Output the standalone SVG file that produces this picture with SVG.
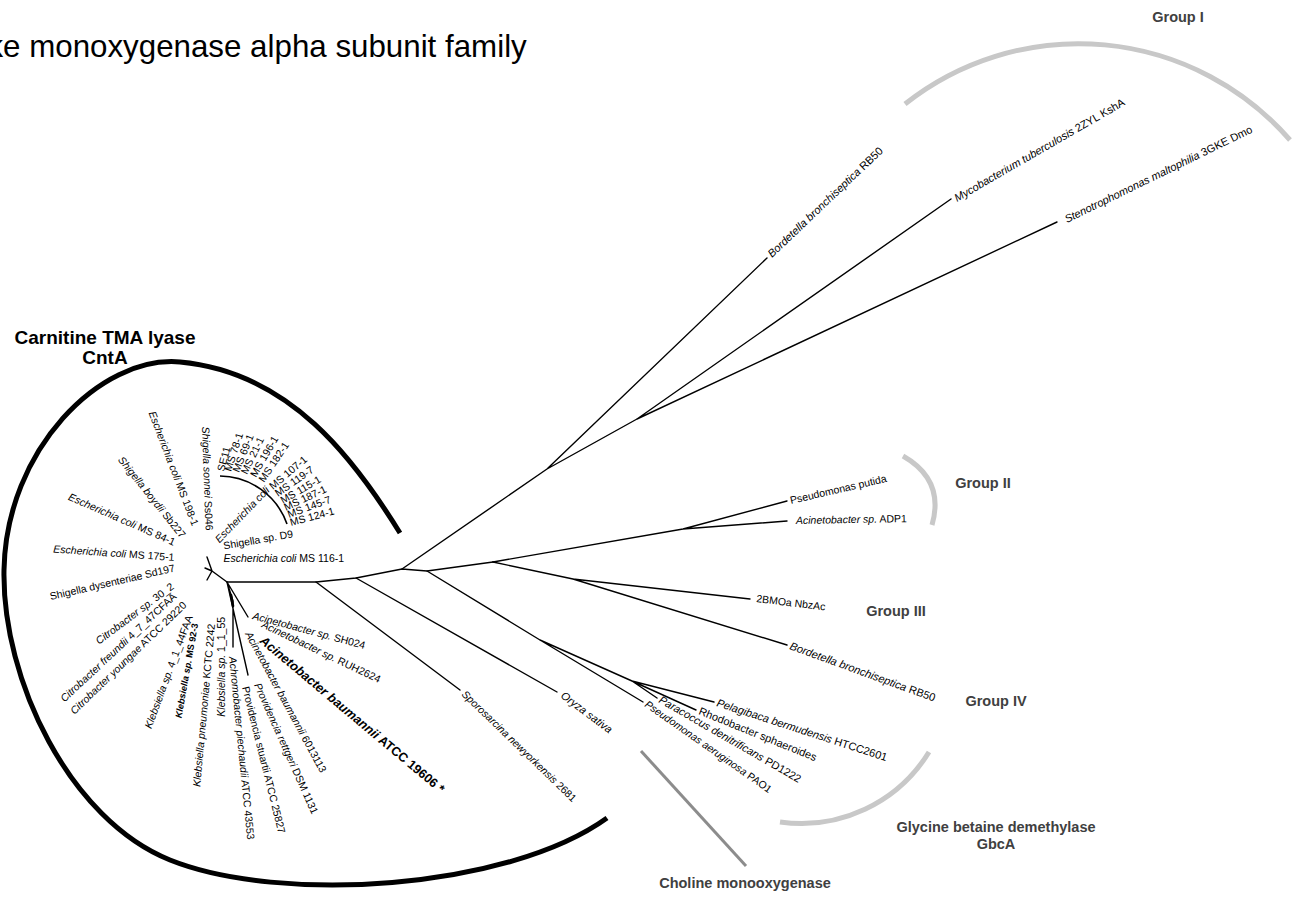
<svg xmlns="http://www.w3.org/2000/svg" width="1299" height="915" viewBox="0 0 1299 915">
<style>
text{font-family:"Liberation Sans",Arial,Helvetica,sans-serif;fill:#000}
.l{font-size:10.5px}
.r{font-size:11px}
.i{font-style:italic}
.b{font-weight:bold}
.g{font-size:14.5px;font-weight:bold;fill:#404040}
.c{text-anchor:middle}
.tree{fill:none;stroke:#000;stroke-width:1.4;stroke-linecap:round;stroke-linejoin:round}
.grp{fill:none;stroke:#c8c8c8;stroke-width:5}
</style>
<rect width="1299" height="915" fill="#fff"/>
<text x="-12.6" y="57" font-size="31.3">ke monoxygenase alpha subunit family</text>

<g id="brackets">
<path class="grp" d="M905,104 A280,280 0 0 1 1290,140"/>
<path class="grp" d="M903,456 Q945,480 932,525"/>
<path class="grp" d="M929,752 A150,150 0 0 1 780,822"/>
<line x1="641" y1="751" x2="746" y2="866" stroke="#8c8c8c" stroke-width="3"/>
<path d="M400,533 C355,460 290,372 180,362 C100,355 6,450 4,570 C2,680 70,820 170,860 C280,904 507,890 607,818" fill="none" stroke="#000" stroke-width="5"/>
<path d="M220,476 A72,72 0 0 1 287,524" fill="none" stroke="#000" stroke-width="1.6"/>
</g>

<g id="connectors" class="tree">
<path d="M227,582 L212,571 L207,557 M212,571 L205,568 M212,571 L207,580"/>
<path d="M227,582 L316,582 L356,578 L402,569 L427,571 L493,562"/>
<path d="M316,582 L460,690"/>
<path d="M356,578 L557,692"/>
<path d="M402,569 L547,469 L767,258 M547,469 L637,419 L951,199 M637,419 L1057,222"/>
<path d="M427,571 L540,640 L643,702 M540,640 L632,681 L714,702 M632,681 L696,710 M632,681 L657,698"/>
<path d="M493,562 L683,529 L787,501 M683,529 L787,521"/>
<path d="M493,562 L573,579 L750,599 M573,579 L787,645"/>
<path d="M227,582 L248,617 M227,582 L233,601 L233,647 M227,582 L248,675"/>
<path d="M231,595 L233,606" stroke-width="2.6"/>
</g>

<g id="cntA-label"><text class="b c" x="105" y="344" font-size="19">Carnitine TMA lyase</text><text class="b c" x="105" y="364" font-size="19">CntA</text></g>
<g id="group1-label"><text class="g c" x="1178" y="22">Group I</text></g>
<g id="group2-label"><text class="g c" x="983" y="488">Group II</text></g>
<g id="group3-label"><text class="g c" x="896" y="616">Group III</text></g>
<g id="group4-label"><text class="g c" x="996" y="706">Group IV</text></g>
<g id="gbcA-label"><text class="g c" x="996" y="832" font-size="13">Glycine betaine demethylase</text><text class="g c" x="996" y="849" font-size="13">GbcA</text></g>
<g id="choline-label"><text class="g c" x="745" y="888" font-size="13.5">Choline monooxygenase</text></g>

<g id="n-bordetella-g1"><text class="r" transform="translate(772,258) rotate(-43.6)"><tspan class="i">Bordetella bronchiseptica</tspan> RB50</text></g>
<g id="n-mycobacterium"><text class="r" transform="translate(957,202) rotate(-30)"><tspan class="i">Mycobacterium tuberculosis</tspan> 2ZYL KshA</text></g>
<g id="n-stenotrophomonas"><text class="r" transform="translate(1067,223) rotate(-26)"><tspan class="i">Stenotrophomonas maltophilia</tspan> 3GKE Dmo</text></g>
<g id="n-putida"><text class="l" transform="translate(791,504) rotate(-13)">Pseudomonas putida</text></g>
<g id="n-adp1"><text class="l" transform="translate(796,524) rotate(-1)"><tspan class="i">Acinetobacter sp.</tspan> ADP1</text></g>
<g id="n-2bmoa"><text class="l" transform="translate(756,602) rotate(7)">2BMOa NbzAc</text></g>
<g id="n-bordetella-g3"><text class="r" transform="translate(789,649) rotate(20)"><tspan class="i">Bordetella bronchiseptica</tspan> RB50</text></g>
<g id="n-pelagibaca"><text class="r" transform="translate(716,706) rotate(18)"><tspan class="i">Pelagibaca bermudensis</tspan> HTCC2601</text></g>
<g id="n-rhodobacter"><text class="r" transform="translate(698,714) rotate(22)">Rhodobacter sphaeroides</text></g>
<g id="n-paracoccus"><text class="r" transform="translate(658,702) rotate(30)"><tspan class="i">Paracoccus denitrificans</tspan> PD1222</text></g>
<g id="n-aeruginosa"><text class="l" transform="translate(644,706) rotate(35)"><tspan class="i">Pseudomonas aeruginosa</tspan> PAO1</text></g>
<g id="n-oryza"><text class="r i" transform="translate(560,697) rotate(37)">Oryza sativa</text></g>
<g id="n-sporosarcina"><text class="l" transform="translate(461,695) rotate(44)"><tspan class="i">Sporosarcina newyorkensis</tspan> 2681</text></g>

<g id="n-sh024"><text class="l" transform="translate(252,619) rotate(15)"><tspan class="i">Acinetobacter sp.</tspan> SH024</text></g>
<g id="n-ruh2624"><text class="l" transform="translate(261,627) rotate(25.5)"><tspan class="i">Acinetobacter sp.</tspan> RUH2624</text></g>
<g id="n-atcc19606"><text class="b" font-size="12.7" transform="translate(259,642) rotate(40)"><tspan class="i">Acinetobacter baumannii</tspan> ATCC 19606 *</text></g>
<g id="n-6013113"><text class="l" transform="translate(245,634) rotate(61.6)"><tspan class="i">Acinetobacter baumannii</tspan> 6013113</text></g>
<g id="n-rettgeri"><text class="l" transform="translate(254,685) rotate(66)"><tspan class="i">Providencia rettgeri</tspan> DSM 1131</text></g>
<g id="n-stuartii"><text class="l" transform="translate(242,687.5) rotate(76)">Providencia stuartii ATCC 25827</text></g>
<g id="n-achromobacter"><text class="l" transform="translate(229,657) rotate(84.3)"><tspan class="i">Achromobacter piechaudii</tspan> ATCC 43553</text></g>
<g id="n-kleb-1155"><text class="l" transform="translate(225.2,716.7) rotate(-90)"><tspan class="i">Klebsiella sp.</tspan> 1_1_55</text></g>
<g id="n-kleb-kctc"><text class="l" transform="translate(200.2,787) rotate(-84.8)"><tspan class="i">Klebsiella pneumoniae</tspan> KCTC 2242</text></g>
<g id="n-kleb-ms923"><text class="b" font-size="9.2" transform="translate(181.4,718.6) rotate(-80)"><tspan class="i">Klebsiella sp.</tspan> MS 92-3</text></g>
<g id="n-kleb-44faa"><text class="l" transform="translate(151.3,729.2) rotate(-69.7)"><tspan class="i">Klebsiella sp.</tspan> 4_1_44FAA</text></g>
<g id="n-cit-youngae"><text class="l" transform="translate(74.4,715) rotate(-44)"><tspan class="i">Citrobacter youngae</tspan> ATCC 29220</text></g>
<g id="n-cit-freundii"><text class="l" transform="translate(64.4,702.6) rotate(-43)"><tspan class="i">Citrobacter freundii</tspan> 4_7_47CFAA</text></g>
<g id="n-cit-302"><text class="l" transform="translate(99.1,644.8) rotate(-37)"><tspan class="i">Citrobacter sp.</tspan> 30_2</text></g>
<g id="n-dysenteriae"><text class="l" transform="translate(50.8,600.1) rotate(-13)">Shigella dysenteriae Sd197</text></g>
<g id="n-ecoli-1751"><text class="l" transform="translate(53.1,552.5) rotate(4)"><tspan class="i">Escherichia coli</tspan> MS 175-1</text></g>
<g id="n-ecoli-841"><text class="l" transform="translate(67.5,499.5) rotate(23.6)"><tspan class="i">Escherichia coli</tspan> MS 84-1</text></g>
<g id="n-boydii"><text class="l" transform="translate(117.5,460) rotate(51.3)"><tspan class="i">Shigella boydii</tspan> Sb227</text></g>
<g id="n-ecoli-1981"><text class="l" transform="translate(148.5,413) rotate(69)"><tspan class="i">Escherichia coli</tspan> MS 198-1</text></g>
<g id="n-sonnei"><text class="l" transform="translate(202,426.8) rotate(88)"><tspan class="i">Shigella sonnei</tspan> Ss046</text></g>
<g id="n-shigella-d9"><text class="l" transform="translate(224,549.5) rotate(-10)">Shigella sp. D9</text></g>
<g id="n-ecoli-1161"><text class="l" transform="translate(223.5,562)"><tspan class="i">Escherichia coli</tspan> MS 116-1</text></g>
<g id="n-ecoli-group"><text class="l i" transform="translate(219.5,543.4) rotate(-46)">Escherichia coli</text></g>
<g id="n-ms-strains">
<text class="l" transform="translate(224,472) rotate(-75)">SE11</text>
<text class="l" transform="translate(231,472) rotate(-72)">MS 78-1</text>
<text class="l" transform="translate(239,473) rotate(-68)">MS 69-1</text>
<text class="l" transform="translate(247,475) rotate(-64)">MS 21-1</text>
<text class="l" transform="translate(256,478) rotate(-60)">MS 196-1</text>
<text class="l" transform="translate(264,483) rotate(-56)">MS 182-1</text>
<text class="l" transform="translate(273,490) rotate(-40)">MS 107-1</text>
<text class="l" transform="translate(278,497) rotate(-35)">MS 119-7</text>
<text class="l" transform="translate(283,504) rotate(-30)">MS 115-1</text>
<text class="l" transform="translate(286,511) rotate(-25)">MS 187-1</text>
<text class="l" transform="translate(289,518) rotate(-20)">MS 145-7</text>
<text class="l" transform="translate(291,526) rotate(-15)">MS 124-1</text>
</g>
</svg>
